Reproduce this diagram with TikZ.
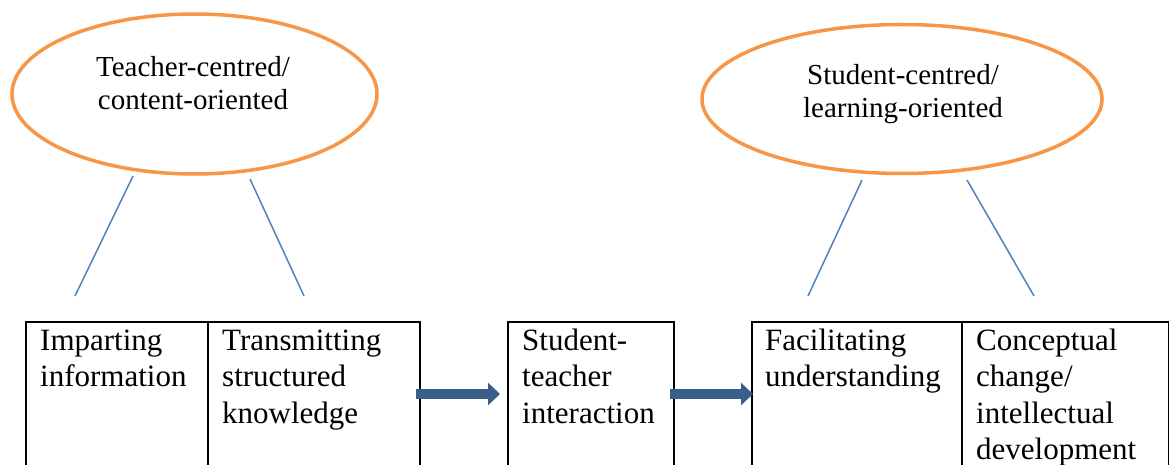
\documentclass[tikz,border=0pt]{standalone}
\usepackage{fontspec}
\setmainfont{Liberation Serif}
\usetikzlibrary{calc,arrows.meta,shapes.geometric}
\definecolor{orng}{HTML}{F79646}
\definecolor{lblue}{HTML}{4F81BD}
\definecolor{darr}{HTML}{3A5E8C}
\begin{document}
\begin{tikzpicture}[x=1pt,y=-1pt,
  oval/.style={ellipse, draw=orng, line width=3.5pt, inner sep=0pt},
  ovaltxt/.style={anchor=base, inner sep=0pt, text width=260pt, align=center,
    font=\fontsize{29}{33}\selectfont},
  cell/.style={draw=black, line width=1.6pt, anchor=north west, inner sep=0pt, minimum height=200pt},
  celltxt/.style={anchor=base west, inner sep=0pt, text width=190pt, align=left,
    font=\fontsize{31}{36.5}\selectfont},
  link/.style={draw=lblue, line width=1.5pt},
  barrow/.style={draw=darr, line width=10pt, -{Triangle[length=12pt,width=22pt]}}
]
\useasboundingbox (0,0) rectangle (1169,465);
\clip (0,0) rectangle (1169,465);

% ellipses
\node[oval, minimum width=365pt, minimum height=160pt] (tc) at (194.5,94) {};
\node[ovaltxt] (tct) at (193,77) {Teacher-centred/\\content-oriented};
\node[oval, minimum width=400pt, minimum height=149pt] (sc) at (902,99) {};
\node[ovaltxt] (sct) at (903,85) {Student-centred/\\learning-oriented};

% boxes
\node[cell, minimum width=182pt] (c1) at (25,321) {};
\node[cell, minimum width=212pt] (c2) at (207,321) {};
\node[cell, minimum width=166pt] (c3) at (507,321) {};
\node[cell, minimum width=210pt] (c4) at (751,321) {};
\node[cell, minimum width=207pt] (c5) at (961,321) {};

\node[celltxt] (t1) at ($(c1.north west)+(15,29)$) {Imparting\\information};
\node[celltxt] (t2) at ($(c2.north west)+(15,29)$) {Transmitting\\structured\\knowledge};
\node[celltxt] (t3) at ($(c3.north west)+(15,29)$) {Student-\\teacher\\interaction};
\node[celltxt] (t4) at ($(c4.north west)+(14,29)$) {Facilitating\\understanding};
\node[celltxt] (t5) at ($(c5.north west)+(15,29)$) {Conceptual\\change/\\intellectual\\development};

% connector lines
\coordinate (a1) at (133,176); \coordinate (b1) at (75,296);
\coordinate (a2) at (250,179); \coordinate (b2) at (304,296);
\coordinate (a3) at (862,180); \coordinate (b3) at (808,296);
\coordinate (a4) at (967,180); \coordinate (b4) at (1034,296);
\draw[link] (a1) -- (b1);
\draw[link] (a2) -- (b2);
\draw[link] (a3) -- (b3);
\draw[link] (a4) -- (b4);

% block arrows
\draw[barrow] ($(c2.north east)+(-5,73)$) -- ($(c3.north west)+(-7,73)$);
\draw[barrow] ($(c3.north east)+(-5,73)$) -- ($(c4.north west)+(2,73)$);
\end{tikzpicture}
\end{document}
